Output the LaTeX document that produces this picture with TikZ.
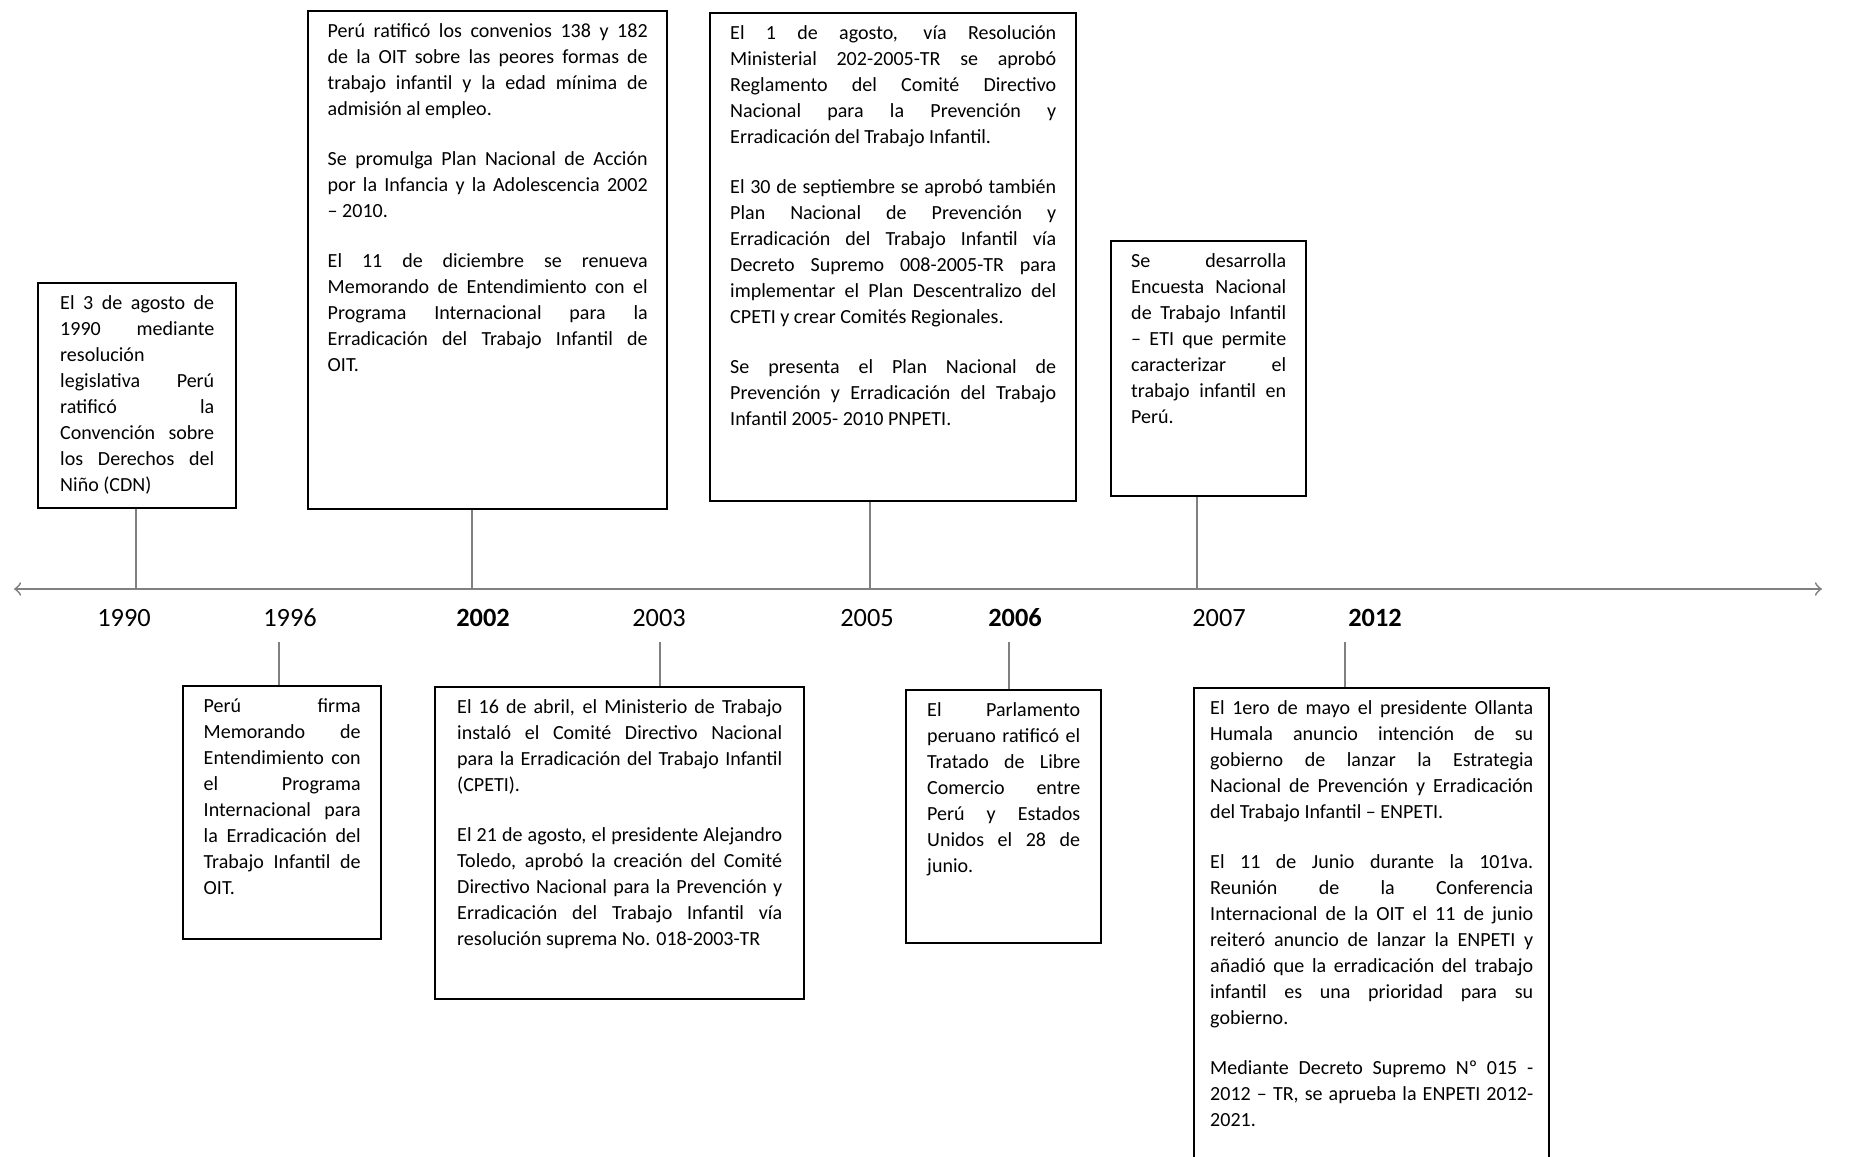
\documentclass[tikz,border=0pt]{standalone}
\usepackage{fontspec}
\setmainfont{Carlito}
\tikzset{
  caja/.style={draw=black, line width=0.7pt, anchor=north west, inner xsep=0pt, inner ysep=0.12cm, font=\fontsize{5.7}{7.4}\selectfont},
  anio/.style={font=\fontsize{7.5}{9}\selectfont},
  aniob/.style={font=\fontsize{7.5}{9}\selectfont\bfseries},
  enlace/.style={draw=gray, line width=0.4pt},
}
\newcommand{\evtexto}[3]{\parbox[t][#2][t]{#1}{\tolerance=10000\hyphenpenalty=10000\exhyphenpenalty=10000 #3}}
\newcommand{\evpar}{\par\vspace{0.24cm}}
\begin{document}
\begin{tikzpicture}
    \useasboundingbox (0,0) rectangle (18.55,-11.57);
    \coordinate (ini) at (0.14,-5.89);
    \coordinate (fin) at (18.22,-5.89);
    \draw[gray, line width=0.5pt, <->] (ini) -- (fin);

    \node[caja, minimum width=1.98cm] (b1990) at (0.37,-2.82) {\evtexto{1.54cm}{2.01cm}{El 3 de agosto de\linebreak 1990 mediante\linebreak resolución\linebreak legislativa Perú\linebreak ratificó la\linebreak Convención sobre\linebreak los Derechos del\linebreak Niño (CDN)}};
    \node[caja, minimum width=3.59cm] (b2002) at (3.07,-0.10) {\evtexto{3.20cm}{4.74cm}{Perú ratificó los convenios 138 y 182\linebreak de la OIT sobre las peores formas de\linebreak trabajo infantil y la edad mínima de\linebreak admisión al empleo.\evpar Se promulga Plan Nacional de Acción\linebreak por la Infancia y la Adolescencia 2002\linebreak – 2010.\evpar El 11 de diciembre se renueva\linebreak Memorando de Entendimiento con el\linebreak Programa Internacional para la\linebreak Erradicación del Trabajo Infantil de\linebreak OIT.}};
    \node[caja, minimum width=3.66cm] (b2005) at (7.09,-0.12) {\evtexto{3.26cm}{4.64cm}{El 1 de agosto, vía Resolución\linebreak Ministerial 202-2005-TR se aprobó\linebreak Reglamento del Comité Directivo\linebreak Nacional para la Prevención y\linebreak Erradicación del Trabajo Infantil.\evpar El 30 de septiembre se aprobó también\linebreak Plan Nacional de Prevención y\linebreak Erradicación del Trabajo Infantil vía\linebreak Decreto Supremo 008-2005-TR para\linebreak implementar el Plan Descentralizo del\linebreak CPETI y crear Comités Regionales.\evpar Se presenta el Plan Nacional de\linebreak Prevención y Erradicación del Trabajo\linebreak Infantil 2005- 2010 PNPETI.}};
    \node[caja, minimum width=1.95cm] (b2007) at (11.10,-2.40) {\evtexto{1.55cm}{2.31cm}{Se desarrolla\linebreak Encuesta Nacional\linebreak de Trabajo Infantil\linebreak – ETI que permite\linebreak caracterizar el\linebreak trabajo infantil en\linebreak Perú.}};

    \node[caja, minimum width=1.98cm] (b1996) at (1.82,-6.85) {\evtexto{1.57cm}{2.29cm}{Perú firma\linebreak Memorando de\linebreak Entendimiento con\linebreak el Programa\linebreak Internacional para\linebreak la Erradicación del\linebreak Trabajo Infantil de\linebreak OIT.}};
    \node[caja, minimum width=3.69cm] (b2003) at (4.34,-6.86) {\evtexto{3.25cm}{2.88cm}{El 16 de abril, el Ministerio de Trabajo\linebreak instaló el Comité Directivo Nacional\linebreak para la Erradicación del Trabajo Infantil\linebreak (CPETI).\evpar El 21 de agosto, el presidente Alejandro\linebreak Toledo, aprobó la creación del Comité\linebreak Directivo Nacional para la Prevención y\linebreak Erradicación del Trabajo Infantil vía\linebreak resolución suprema No. 018-2003-TR}};
    \node[caja, minimum width=1.95cm] (b2006) at (9.05,-6.89) {\evtexto{1.53cm}{2.29cm}{El Parlamento\linebreak peruano ratificó el\linebreak Tratado de Libre\linebreak Comercio entre\linebreak Perú y Estados\linebreak Unidos el 28 de\linebreak junio.}};
    \node[caja, minimum width=3.55cm] (b2012) at (11.93,-6.87) {\evtexto{3.23cm}{4.76cm}{El 1ero de mayo el presidente Ollanta\linebreak Humala anuncio intención de su\linebreak gobierno de lanzar la Estrategia\linebreak Nacional de Prevención y Erradicación\linebreak del Trabajo Infantil – ENPETI.\evpar El 11 de Junio durante la 101va.\linebreak Reunión de la Conferencia\linebreak Internacional de la OIT el 11 de junio\linebreak reiteró anuncio de lanzar la ENPETI y\linebreak añadió que la erradicación del trabajo\linebreak infantil es una prioridad para su\linebreak gobierno.\evpar Mediante Decreto Supremo Nº 015 -\linebreak 2012 – TR, se aprueba la ENPETI 2012-\linebreak 2021.}};

    \node[anio] (a1990) at (1.24,-6.18) {1990};
    \node[anio] (a1996) at (2.90,-6.18) {1996};
    \node[aniob] (a2002) at (4.83,-6.18) {2002};
    \node[anio] (a2003) at (6.59,-6.18) {2003};
    \node[anio] (a2005) at (8.67,-6.18) {2005};
    \node[aniob] (a2006) at (10.15,-6.18) {2006};
    \node[anio] (a2007) at (12.19,-6.18) {2007};
    \node[aniob] (a2012) at (13.75,-6.18) {2012};

    \coordinate (t1990) at (1.36,-5.89);
    \coordinate (t2002) at (4.72,-5.89);
    \coordinate (t2005) at (8.70,-5.89);
    \coordinate (t2007) at (11.97,-5.89);
    \draw[enlace] (t1990) -- (t1990 |- b1990.south);
    \draw[enlace] (t2002) -- (t2002 |- b2002.south);
    \draw[enlace] (t2005) -- (t2005 |- b2005.south);
    \draw[enlace] (t2007) -- (t2007 |- b2007.south);

    \coordinate (t1996) at (2.79,-6.42);
    \coordinate (t2003) at (6.60,-6.42);
    \coordinate (t2006) at (10.09,-6.42);
    \coordinate (t2012) at (13.45,-6.42);
    \draw[enlace] (t1996) -- (t1996 |- b1996.north);
    \draw[enlace] (t2003) -- (t2003 |- b2003.north);
    \draw[enlace] (t2006) -- (t2006 |- b2006.north);
    \draw[enlace] (t2012) -- (t2012 |- b2012.north);
\end{tikzpicture}
\end{document}
